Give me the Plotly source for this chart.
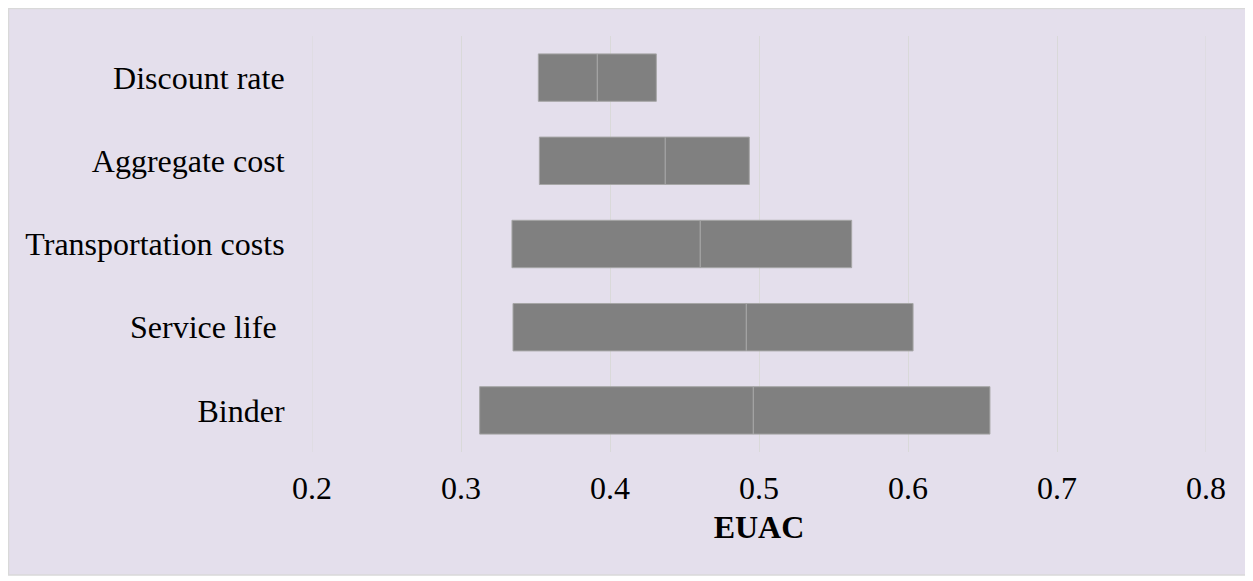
import plotly.graph_objects as go

categories = ["Binder", "Service life\u00a0", "Transportation costs", "Aggregate cost", "Discount rate"]
low_values = [0.3125, 0.3349, 0.3342, 0.3526, 0.3519]
base_values = [0.4962, 0.4915, 0.4606, 0.4371, 0.3915]
high_values = [0.6550, 0.6034, 0.5622, 0.4935, 0.4311]
x_ticks = [0.2, 0.3, 0.4, 0.5, 0.6, 0.7, 0.8]
x_title = "EUAC"

bar_color = "#808080"
edge_color = "#A6A6A6"
bg_color = "#E4DFEC"
grid_color = "#D9D9D9"
font_family = "Liberation Serif, Times New Roman, serif"

fig = go.Figure()
fig.add_trace(go.Bar(
    y=categories,
    x=[b - l for b, l in zip(base_values, low_values)],
    base=low_values,
    orientation="h",
    marker=dict(color=bar_color, line=dict(color=edge_color, width=1)),
    showlegend=False,
    hoverinfo="skip",
))
fig.add_trace(go.Bar(
    y=categories,
    x=[h - b for h, b in zip(high_values, base_values)],
    base=base_values,
    orientation="h",
    marker=dict(color=bar_color, line=dict(color=edge_color, width=1)),
    showlegend=False,
    hoverinfo="skip",
))

# page has an 8px body margin; compensate
W, H = 1245, 573
L, R, T, B = 304, 47, 28, 129
pw, ph = W - L - R, H - T - B

shapes = [dict(
    type="rect", xref="paper", yref="paper", layer="below",
    x0=(0.5 - L) / pw, x1=(W - 6 - L) / pw,
    y0=1 - (H - 6 - T) / ph, y1=1 - (0.5 - T) / ph,
    fillcolor=bg_color, line=dict(color="#D9D9D9", width=1.5),
)]
# gridlines at the range ends (plotly omits these)
for v in (x_ticks[0], x_ticks[-1]):
    shapes.append(dict(type="line", xref="x", yref="paper", layer="below",
                       x0=v, x1=v, y0=0, y1=1,
                       line=dict(color=grid_color, width=1)))

fig.update_layout(
    width=W, height=H,
    margin=dict(l=L, r=R, t=T, b=B),
    paper_bgcolor="white",
    plot_bgcolor="rgba(0,0,0,0)",
    barmode="overlay",
    bargap=0.43,
    font=dict(family=font_family, size=32, color="black"),
    xaxis=dict(
        range=[0.2, 0.8],
        tickvals=x_ticks,
        ticktext=[f"{v:.1f}" for v in x_ticks],
        showgrid=True, gridcolor=grid_color, gridwidth=1,
        zeroline=False, showline=False,
        ticks="outside", ticklen=8, tickcolor="rgba(0,0,0,0)",
        title=dict(text="<b>" + x_title + "</b>", standoff=10, font=dict(size=32)),
        tickfont=dict(size=32),
    ),
    yaxis=dict(
        showgrid=False, zeroline=False, showline=False,
        ticks="outside", ticklen=20, tickcolor="rgba(0,0,0,0)",
        tickfont=dict(size=32),
    ),
    shapes=shapes,
)

fig.write_html("out.html")
